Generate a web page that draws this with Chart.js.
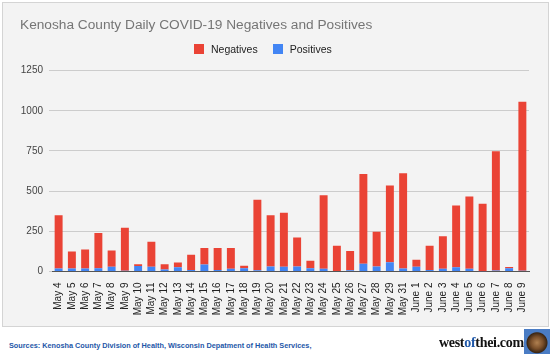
<!DOCTYPE html>
<html>
<head>
<meta charset="utf-8">
<script src="https://cdn.jsdelivr.net/npm/chart.js@4.4.1/dist/chart.umd.min.js"></script>
<style>
  body { margin: 0; background: #fff; font-family: Arial, "Liberation Sans", sans-serif; }
  #wrap { position: relative; width: 550px; height: 354px; overflow: hidden; }
  #box { position: absolute; left: 2px; top: 2px; width: 545px; height: 323px; background: #f3f3f3; border: 1px solid #d4d4d4; }
  #covid_chart { position: absolute; left: 0; top: 0; }
  #covid_legend { position: absolute; left: 194px; top: 42px; margin: 0; padding: 0; list-style: none; display: flex; font-size: 10.5px; color: #222; }
  #covid_legend li { display: flex; align-items: center; margin-right: 15px; height: 14px; }
  #covid_legend .swatch { display: inline-block; width: 10px; height: 10px; margin-right: 7px; }
  #sources { position: absolute; left: 9px; top: 341px; font-size: 7.3px; font-weight: bold; color: #1e57a8; white-space: nowrap; }
  #brand { position: absolute; left: 439px; top: 335px; font-family: "Liberation Serif", "DejaVu Serif", serif; font-weight: bold; font-size: 14px; letter-spacing: -0.3px; color: #111; white-space: nowrap; }
  #brand span { color: #1e57a8; }
  #logo { position: absolute; left: 524px; top: 329px; width: 26px; height: 25px;
          background: radial-gradient(circle at 50% 55%, #b08050 0, #7a4f2a 6px, #3b2614 10px, rgba(0,0,0,0) 11px), #4a7cc4; }
</style>
</head>
<body>
<div id="wrap">
  <div id="box"></div>
  <canvas id="covid_chart" width="550" height="330"></canvas>
  <ul id="covid_legend"></ul>
  <div id="sources">Sources: Kenosha County Division of Health, Wisconsin Depatment of Health Services,</div>
  <div id="brand">west<span>of</span>thei.com</div>
  <div id="logo"></div>
</div>
<script>
const dayLabels = ['May 4', 'May 5', 'May 6', 'May 7', 'May 8', 'May 9', 'May 10', 'May 11', 'May 12',
  'May 13', 'May 14', 'May 15', 'May 16', 'May 17', 'May 18', 'May 19', 'May 20', 'May 21', 'May 22',
  'May 23', 'May 24', 'May 25', 'May 26', 'May 27', 'May 28', 'May 29', 'May 31', 'June 1', 'June 2',
  'June 3', 'June 4', 'June 5', 'June 6', 'June 7', 'June 8', 'June 9'];
const negatives = [331, 106, 118, 219, 102, 269, 10, 156, 32, 29, 94, 102, 136, 129, 15, 438, 319, 336,
  181, 46, 458, 160, 119, 558, 217, 477, 593, 44, 150, 202, 383, 450, 419, 742, 8, 1052];
const positives = [19, 19, 19, 21, 29, 4, 35, 29, 13, 27, 10, 44, 10, 17, 21, 8, 31, 29,
  31, 21, 17, 0, 8, 48, 31, 58, 19, 29, 10, 17, 27, 17, 2, 6, 20, 4];
const yTicks = [0, 250, 500, 750, 1000, 1250];

const seriesNames = ['Negatives', 'Positives'];
const seriesColors = ['#ea4335', '#4285f4'];

document.addEventListener('DOMContentLoaded', function() {
  const ctx = document.getElementById('covid_chart').getContext('2d');
  const covidChart = new Chart(ctx, {
    type: 'bar',
    data: {
      labels: dayLabels,
      datasets: [
        // Positives zuerst, damit sie unten im Stapel liegen
        { label: seriesNames[1], data: positives, backgroundColor: seriesColors[1] },
        { label: seriesNames[0], data: negatives, backgroundColor: seriesColors[0] }
      ]
    },
    options: {
      responsive: false,
      animation: false,
      datasets: { bar: { barPercentage: 0.6, categoryPercentage: 1.0 } },
      layout: { padding: { left: 20, right: 21, top: 16.6, bottom: 0 } },
      plugins: {
        legend: { display: false },
        tooltip: { enabled: false },
        title: {
          display: true,
          text: 'Kenosha County Daily COVID-19 Negatives and Positives',
          align: 'start',
          color: '#757575',
          font: { family: 'Arial, "Liberation Sans", sans-serif', size: 13.7, weight: 'normal' },
          padding: { top: 0, bottom: 37.6 }
        }
      },
      scales: {
        x: {
          stacked: true,
          grid: { display: false },
          border: { color: '#555' },
          ticks: {
            autoSkip: false,
            minRotation: 90,
            maxRotation: 90,
            padding: 3,
            color: '#222',
            font: { family: 'Arial, "Liberation Sans", sans-serif', size: 10 }
          },
          afterFit: function(scale) { scale.height = 58.5; }
        },
        y: {
          stacked: true,
          min: 0,
          max: yTicks[yTicks.length - 1],
          grid: { color: '#cccccc', tickLength: 3, tickColor: '#cccccc' },
          border: { display: false },
          ticks: {
            stepSize: yTicks[1] - yTicks[0],
            padding: 6,
            color: '#444',
            font: { family: 'Arial, "Liberation Sans", sans-serif', size: 10 },
            callback: function(value) { return String(value); }
          },
          afterFit: function(scale) { scale.width = 32; }
        }
      }
    }
  });

  // Eigene Legende in der Reihenfolge Negatives, Positives
  const legendContainer = document.getElementById('covid_legend');
  legendContainer.innerHTML = seriesNames.map((name, i) => `
    <li><span class="swatch" style="background:${seriesColors[i]}"></span><span>${name}</span></li>
  `).join('');
});
</script>
</body>
</html>
